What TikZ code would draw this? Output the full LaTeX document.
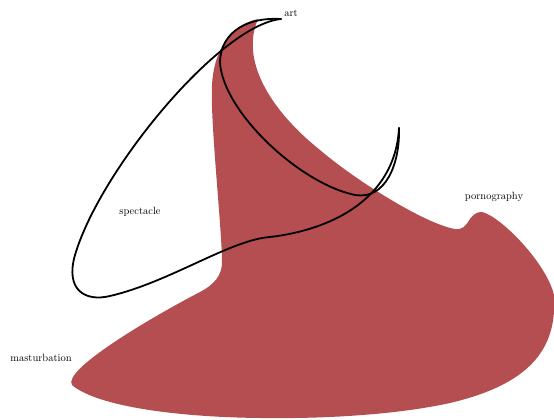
\documentclass[tikz,border=0pt]{standalone}
\definecolor{blobred}{RGB}{180,78,80}
\begin{document}
\begin{tikzpicture}[x=1pt,y=-1pt,
  blob/.style={fill=blobred},
  stroke/.style={draw=black,line width=1.8pt,line cap=round},
  lbl/.style={font=\fontsize{10.5}{12}\selectfont,inner sep=0pt}]
\useasboundingbox (0,0) rectangle (554,420);
\fill[blob] (258,19)
  .. controls (240,60) and (270,110) .. (320,150)
  .. controls (355,180) and (425,224) .. (455,229)
  .. controls (470,231) and (467,212) .. (482,212)
  .. controls (500,216) and (546,262) .. (554,295)
  .. controls (557,345) and (535,383) .. (450,403)
  .. controls (400,414) and (330,419) .. (260,418)
  .. controls (170,417) and (95,405) .. (72,385)
  .. controls (62,370) and (150,318) .. (200,292)
  .. controls (215,284) and (222,275) .. (222,262)
  .. controls (222,230) and (210,120) .. (212,85)
  .. controls (214,50) and (230,25) .. (258,19) -- cycle;
\coordinate (artend) at (281,19);
\coordinate (hook) at (399,128);
\draw[stroke] (artend)
  .. controls (220,25) and (100,170) .. (75,255)
  .. controls (65,290) and (85,302) .. (110,296)
  .. controls (170,282) and (230,240) .. (270,237)
  .. controls (330,230) and (395,200) .. (hook);
\draw[stroke] (artend)
  .. controls (250,17) and (221,30) .. (220,62)
  .. controls (222,110) and (298,183) .. (355,195)
  .. controls (385,200) and (400,165) .. (hook);
\node[lbl] (art) at (291,13) {art};
\node[lbl] (spectacle) at (140,212) {spectacle};
\node[lbl] (pornography) at (494,197) {pornography};
\node[lbl] (masturbation) at (41,358) {masturbation};
\end{tikzpicture}
\end{document}
